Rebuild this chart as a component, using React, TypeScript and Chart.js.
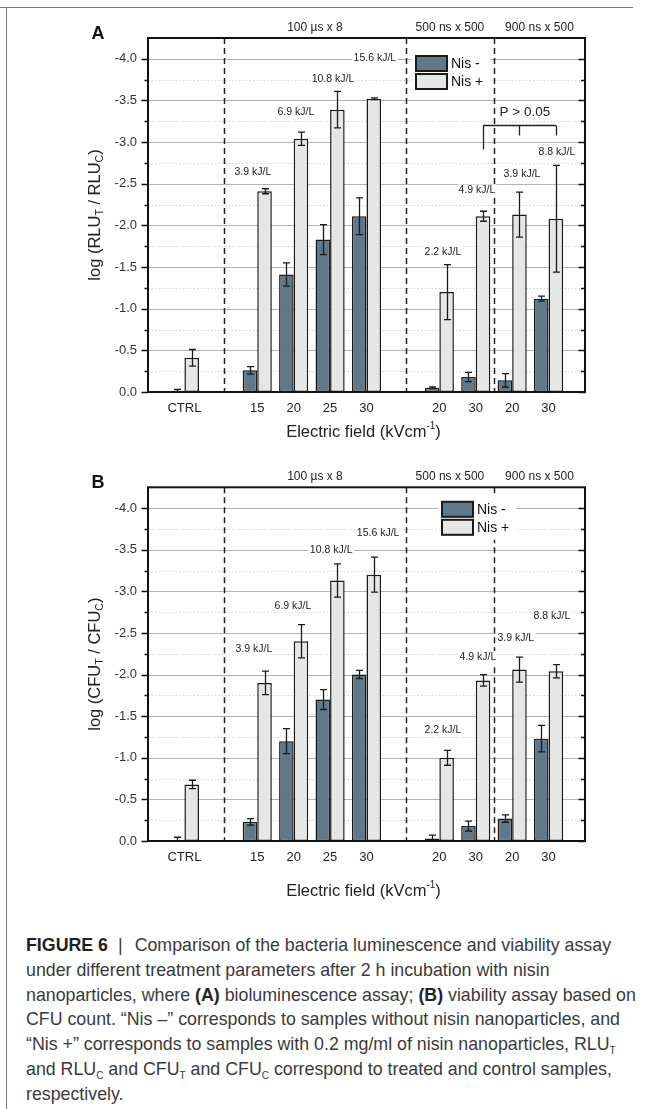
import React, { useEffect, useRef } from 'react';
import { Chart, registerables } from 'chart.js';

Chart.register(...registerables);

const FONT = '"Liberation Sans", Arial, Helvetica, sans-serif';
Chart.defaults.font.family = FONT;
Chart.defaults.color = '#222';

// ---------- data ----------
// x categories (blank entries are empty spacing slots)
const categories = ['', 'CTRL', '', '15', '20', '25', '30', '', '20', '30', '20', '30', ''];
const seriesNames = ['Nis -', 'Nis +'];
const protocolLabels = ['100 µs x 8', '500 ns x 500', '900 ns x 500'];
const protocolBreaks = [2.09, 7.08, 9.5];

// Panel A: bioluminescence, log(RLU_T / RLU_C)
const rluNisMinus = [null, -0.01, null, -0.26, -1.41, -1.83, -2.11, null, -0.05, -0.18, -0.14, -1.12, null];
const rluNisMinusErr = [null, 0.02, null, 0.045, 0.14, 0.18, 0.22, null, 0.01, 0.055, 0.08, 0.03, null];
const rluNisPlus = [null, -0.41, null, -2.41, -3.04, -3.39, -3.52, null, -1.2, -2.11, -2.13, -2.08, null];
const rluNisPlusErr = [null, 0.1, null, 0.03, 0.08, 0.22, 0.01, null, 0.33, 0.06, 0.27, 0.64, null];
const rluEnergyText = ['3.9 kJ/L', '6.9 kJ/L', '10.8 kJ/L', '15.6 kJ/L', '2.2 kJ/L', '4.9 kJ/L', '3.9 kJ/L', '8.8 kJ/L'];
const rluEnergyX = [2.88, 4.06, 5.08, 6.23, 8.1, 9.03, 10.27, 11.23];
const rluEnergyY = [-2.64, -3.36, -3.76, -4.01, -1.68, -2.42, -2.62, -2.88];

// Panel B: viability, log(CFU_T / CFU_C)
const cfuNisMinus = [null, -0.005, null, -0.23, -1.2, -1.7, -2.0, null, -0.03, -0.18, -0.27, -1.23, null];
const cfuNisMinusErr = [null, 0.04, null, 0.04, 0.15, 0.12, 0.05, null, 0.04, 0.06, 0.045, 0.16, null];
const cfuNisPlus = [null, -0.68, null, -1.9, -2.4, -3.13, -3.2, null, -1.0, -1.93, -2.06, -2.04, null];
const cfuNisPlusErr = [null, 0.05, null, 0.14, 0.2, 0.2, 0.21, null, 0.09, 0.07, 0.15, 0.08, null];
const cfuEnergyText = ['3.9 kJ/L', '6.9 kJ/L', '10.8 kJ/L', '15.6 kJ/L', '2.2 kJ/L', '4.9 kJ/L', '3.9 kJ/L', '8.8 kJ/L'];
const cfuEnergyX = [2.91, 3.98, 5.03, 6.32, 8.1, 9.06, 10.1, 11.09];
const cfuEnergyY = [-2.3, -2.82, -3.5, -3.7, -1.33, -2.21, -2.44, -2.7];

// significance bracket (panel A)
const pBracketX = [9.2, 10.2, 11.2];
const pBracketLegEnd = [-2.91, -3.08, -3.08];
const pBracketTop = -3.2;
const pLabel = 'P > 0.05';
const pLabelX = 10.35;
const pLabelY = -3.36;

const Y_MIN = -4.25;
const Y_MAX = 0;

const DARK = '#5f788a';
const LIGHT = '#e5e6e6';

type Num = number | null;
type PanelSpec = {
  letter: string;
  q: string;
  minus: Num[];
  minusErr: Num[];
  plus: Num[];
  plusErr: Num[];
  energyText: string[];
  energyX: number[];
  energyY: number[];
  bracket: boolean;
  legendDx: number;
  legendDy: number;
  xTitleGap: number;
  padTop: number;
  xAxisH: number;
};

const isMajor = (v: number) => Math.abs(v * 2 - Math.round(v * 2)) < 1e-6;

function drawRich(ctx: CanvasRenderingContext2D, parts: { t: string; f: string; dy: number }[], cx: number, cy: number) {
  let total = 0;
  parts.forEach((p) => {
    ctx.font = p.f;
    total += ctx.measureText(p.t).width;
  });
  let xx = cx - total / 2;
  ctx.textAlign = 'left';
  ctx.textBaseline = 'middle';
  parts.forEach((p) => {
    ctx.font = p.f;
    ctx.fillText(p.t, xx, cy + p.dy);
    xx += ctx.measureText(p.t).width;
  });
}

function makePlugin(p: PanelSpec) {
  return {
    id: 'decor' + p.letter,
    beforeDatasetsDraw(chart: any) {
      const { ctx, chartArea: a } = chart;
      const x = chart.scales.x;
      const y = chart.scales.y;
      ctx.save();
      // grid lines
      y.ticks.forEach((t: any) => {
        const v = t.value;
        if (v >= Y_MAX - 1e-9 || v <= Y_MIN + 1e-9) return;
        const py = Math.round(y.getPixelForValue(v)) + 0.5;
        ctx.beginPath();
        ctx.lineWidth = 1;
        if (isMajor(v)) {
          ctx.strokeStyle = '#b3b3b3';
          ctx.setLineDash([]);
        } else {
          ctx.strokeStyle = '#d2d2d2';
          ctx.setLineDash([1.5, 2]);
        }
        ctx.moveTo(a.left, py);
        ctx.lineTo(a.right, py);
        ctx.stroke();
      });
      // protocol separators
      ctx.setLineDash([6, 4]);
      ctx.strokeStyle = '#222';
      ctx.lineWidth = 1.5;
      protocolBreaks.forEach((b) => {
        const px = Math.round(x.getPixelForValue(b)) + 0.5;
        ctx.beginPath();
        ctx.moveTo(px, a.top);
        ctx.lineTo(px, a.bottom);
        ctx.stroke();
      });
      ctx.setLineDash([]);
      // protocol labels above the plot
      const edges = [...protocolBreaks.map((b) => x.getPixelForValue(b)), a.right];
      ctx.fillStyle = '#222';
      ctx.font = `12px ${FONT}`;
      ctx.textAlign = 'center';
      ctx.textBaseline = 'middle';
      protocolLabels.forEach((lab, i) => {
        ctx.fillText(lab, (edges[i] + edges[i + 1]) / 2, a.top - 10.5);
      });
      ctx.restore();
    },
    afterDatasetsDraw(chart: any) {
      const { ctx, chartArea: a } = chart;
      const x = chart.scales.x;
      const y = chart.scales.y;
      ctx.save();
      // error bars
      ctx.save();
      ctx.beginPath();
      ctx.rect(a.left, a.top, a.right - a.left, a.bottom - a.top);
      ctx.clip();
      const errs = [p.minusErr, p.plusErr];
      const vals = [p.minus, p.plus];
      ctx.strokeStyle = '#1a1a1a';
      ctx.lineWidth = 1.3;
      [0, 1].forEach((di) => {
        const meta = chart.getDatasetMeta(di);
        meta.data.forEach((bar: any, i: number) => {
          const v = vals[di][i];
          const e = errs[di][i];
          if (v == null || e == null) return;
          const bx = Math.round(bar.x) + 0.5;
          const y1 = y.getPixelForValue(v - e);
          const y2 = y.getPixelForValue(v + e);
          ctx.beginPath();
          ctx.moveTo(bx, y1);
          ctx.lineTo(bx, y2);
          ctx.moveTo(bx - 3.5, y1);
          ctx.lineTo(bx + 3.5, y1);
          ctx.moveTo(bx - 3.5, y2);
          ctx.lineTo(bx + 3.5, y2);
          ctx.stroke();
        });
      });
      ctx.restore();

      // energy labels
      ctx.font = `10.5px ${FONT}`;
      ctx.textAlign = 'center';
      ctx.textBaseline = 'middle';
      p.energyText.forEach((t, i) => {
        const px = x.getPixelForValue(p.energyX[i]);
        const py = y.getPixelForValue(p.energyY[i]);
        const w = ctx.measureText(t).width;
        ctx.fillStyle = '#fff';
        ctx.fillRect(px - w / 2 - 1.5, py - 6, w + 3, 12);
        ctx.fillStyle = '#222';
        ctx.fillText(t, px, py);
      });

      // significance bracket
      if (p.bracket) {
        ctx.strokeStyle = '#222';
        ctx.lineWidth = 1.3;
        const yt = Math.round(y.getPixelForValue(pBracketTop)) + 0.5;
        ctx.beginPath();
        ctx.moveTo(x.getPixelForValue(pBracketX[0]), yt);
        ctx.lineTo(x.getPixelForValue(pBracketX[pBracketX.length - 1]), yt);
        pBracketX.forEach((bx, i) => {
          const px = Math.round(x.getPixelForValue(bx)) + 0.5;
          ctx.moveTo(px, yt);
          ctx.lineTo(px, y.getPixelForValue(pBracketLegEnd[i]));
        });
        ctx.stroke();
        ctx.fillStyle = '#222';
        ctx.font = `13.5px ${FONT}`;
        ctx.fillText(pLabel, x.getPixelForValue(pLabelX), y.getPixelForValue(pLabelY));
      }

      // legend
      const lx = a.left + p.legendDx;
      const ly = a.top + p.legendDy;
      const bw = 31;
      const bh = 15;
      ctx.font = `14px ${FONT}`;
      const tw = Math.max(...seriesNames.map((s) => ctx.measureText(s).width));
      ctx.fillStyle = '#fff';
      ctx.fillRect(lx - 4, ly - 5, bw + 5 + tw + 10, bh * 2 + 3 + 10);
      ctx.lineWidth = 2;
      ctx.strokeStyle = '#1a1a1a';
      [DARK, LIGHT].forEach((c, i) => {
        const by = ly + i * (bh + 3);
        ctx.fillStyle = c;
        ctx.fillRect(lx, by, bw, bh);
        ctx.strokeRect(lx, by, bw, bh);
        ctx.fillStyle = '#111';
        ctx.textAlign = 'left';
        ctx.textBaseline = 'middle';
        ctx.fillText(seriesNames[i], lx + bw + 4, by + bh / 2 + 0.5);
      });

      // frame
      ctx.strokeStyle = '#111';
      ctx.lineWidth = 2;
      ctx.strokeRect(a.left, a.top, a.right - a.left, a.bottom - a.top);

      // tick marks (left outward, right inward)
      ctx.lineWidth = 1.5;
      y.ticks.forEach((t: any) => {
        const v = t.value;
        if (v <= Y_MIN + 1e-9) return;
        const py = Math.round(y.getPixelForValue(v)) + 0.5;
        const major = isMajor(v);
        ctx.beginPath();
        ctx.moveTo(a.left, py);
        ctx.lineTo(a.left - (major ? 6.5 : 3.5), py);
        ctx.moveTo(a.right, py);
        ctx.lineTo(a.right - (major ? 6.5 : 4), py);
        ctx.stroke();
      });

      // y title
      ctx.fillStyle = '#222';
      ctx.save();
      ctx.translate(95, (a.top + a.bottom) / 2);
      ctx.rotate(-Math.PI / 2);
      const big = `16.5px ${FONT}`;
      const small = `10.5px ${FONT}`;
      drawRich(
        ctx,
        [
          { t: `log (${p.q}`, f: big, dy: 0 },
          { t: 'T', f: small, dy: 5 },
          { t: ` / ${p.q}`, f: big, dy: 0 },
          { t: 'C', f: small, dy: 5 },
          { t: ')', f: big, dy: 0 },
        ],
        0,
        0
      );
      ctx.restore();

      // x title
      drawRich(
        ctx,
        [
          { t: 'Electric field (kVcm', f: big, dy: 0 },
          { t: '-1', f: `10px ${FONT}`, dy: -6 },
          { t: ')', f: big, dy: 0 },
        ],
        (a.left + a.right) / 2 - 3,
        a.bottom + p.xTitleGap
      );

      // panel letter
      ctx.font = `bold 18px ${FONT}`;
      ctx.fillStyle = '#111';
      ctx.textAlign = 'center';
      ctx.textBaseline = 'middle';
      ctx.fillText(p.letter, 98, a.top - 4);
      ctx.restore();
    },
  };
}

function buildConfig(p: PanelSpec): any {
  return {
    type: 'bar',
    data: {
      labels: categories,
      datasets: [
        {
          label: seriesNames[0],
          data: p.minus,
          backgroundColor: DARK,
          borderColor: '#1a1a1a',
          borderWidth: 1.5,
          borderSkipped: false,
          categoryPercentage: 0.8,
          barPercentage: 1,
        },
        {
          label: seriesNames[1],
          data: p.plus,
          backgroundColor: LIGHT,
          borderColor: '#1a1a1a',
          borderWidth: 1.5,
          borderSkipped: false,
          categoryPercentage: 0.8,
          barPercentage: 1,
        },
      ],
    },
    options: {
      animation: false,
      responsive: false,
      maintainAspectRatio: false,
      devicePixelRatio: 1,
      layout: { padding: { left: 0, right: 70, top: p.padTop, bottom: 0 } },
      plugins: { legend: { display: false }, tooltip: { enabled: false }, title: { display: false } },
      scales: {
        x: {
          type: 'category',
          offset: false,
          grid: { display: false, drawTicks: false },
          border: { display: false },
          ticks: {
            autoSkip: false,
            maxRotation: 0,
            minRotation: 0,
            padding: 9,
            color: '#222',
            font: { size: 13, family: FONT },
          },
          afterFit: (s: any) => {
            s.height = p.xAxisH;
          },
        },
        y: {
          type: 'linear',
          reverse: true,
          min: Y_MIN,
          max: Y_MAX,
          grid: { display: false, drawTicks: false },
          border: { display: false },
          ticks: {
            stepSize: 0.25,
            maxTicksLimit: 100,
            autoSkip: false,
            padding: 11,
            color: '#333',
            font: { size: 13, family: FONT },
            callback: (v: any) => (isMajor(Number(v)) ? Number(v).toFixed(1) : ''),
          },
          afterFit: (s: any) => {
            s.width = 148;
          },
        },
      },
    },
    plugins: [makePlugin(p)],
  };
}

const panelA: PanelSpec = {
  letter: 'A',
  q: 'RLU',
  minus: rluNisMinus,
  minusErr: rluNisMinusErr,
  plus: rluNisPlus,
  plusErr: rluNisPlusErr,
  energyText: rluEnergyText,
  energyX: rluEnergyX,
  energyY: rluEnergyY,
  bracket: true,
  legendDx: 268,
  legendDy: 18,
  xTitleGap: 40,
  padTop: 38,
  xAxisH: 58,
};

const panelB: PanelSpec = {
  letter: 'B',
  q: 'CFU',
  minus: cfuNisMinus,
  minusErr: cfuNisMinusErr,
  plus: cfuNisPlus,
  plusErr: cfuNisPlusErr,
  energyText: cfuEnergyText,
  energyX: cfuEnergyX,
  energyY: cfuEnergyY,
  bracket: false,
  legendDx: 294,
  legendDy: 14.5,
  xTitleGap: 50,
  padTop: 37.3,
  xAxisH: 59,
};

function Panel({ spec, top }: { spec: PanelSpec; top: number }) {
  const ref = useRef<HTMLCanvasElement>(null);
  useEffect(() => {
    const chart = new Chart(ref.current as HTMLCanvasElement, buildConfig(spec));
    return () => chart.destroy();
  }, []);
  return (
    <canvas
      ref={ref}
      width={655}
      height={450}
      style={{ position: 'absolute', left: 0, top, width: 655, height: 450 }}
    />
  );
}

const subStyle: React.CSSProperties = { fontSize: '10px', position: 'relative', top: '4px', lineHeight: 0 };

export default function App() {
  return (
    <div
      style={{
        position: 'absolute',
        left: 0,
        top: 0,
        width: 655,
        height: 1109,
        background: '#fff',
        overflow: 'hidden',
      }}
    >
      <div style={{ position: 'absolute', left: 0, top: 7, width: 633, height: 1, background: '#7a7a7a' }} />
      <div style={{ position: 'absolute', left: 6, top: 7, width: 1, height: 1102, background: '#7a7a7a' }} />
      <Panel spec={panelA} top={0} />
      <Panel spec={panelB} top={450} />
      <div
        style={{
          position: 'absolute',
          left: 26,
          top: 933,
          fontFamily: FONT,
          fontSize: '17.8px',
          lineHeight: '24.8px',
          color: '#3a3a3a',
          whiteSpace: 'nowrap',
        }}
      >
        <div>
          <b style={{ color: '#222' }}>FIGURE 6</b>
          <span style={{ display: 'inline-block', margin: '0 12px 0 10px' }}>|</span>
          Comparison of the bacteria luminescence and viability assay
        </div>
        <div>under different treatment parameters after 2 h incubation with nisin</div>
        <div>
          nanoparticles, where <b style={{ color: '#222' }}>(A)</b> bioluminescence assay; <b style={{ color: '#222' }}>(B)</b> viability assay based on
        </div>
        <div>CFU count. “Nis –” corresponds to samples without nisin nanoparticles, and</div>
        <div>
          “Nis +” corresponds to samples with 0.2 mg/ml of nisin nanoparticles, RLU<span style={subStyle}>T</span>
        </div>
        <div>
          and RLU<span style={subStyle}>C</span> and CFU<span style={subStyle}>T</span> and CFU<span style={subStyle}>C</span> correspond to treated and control samples,
        </div>
        <div>respectively.</div>
      </div>
    </div>
  );
}
